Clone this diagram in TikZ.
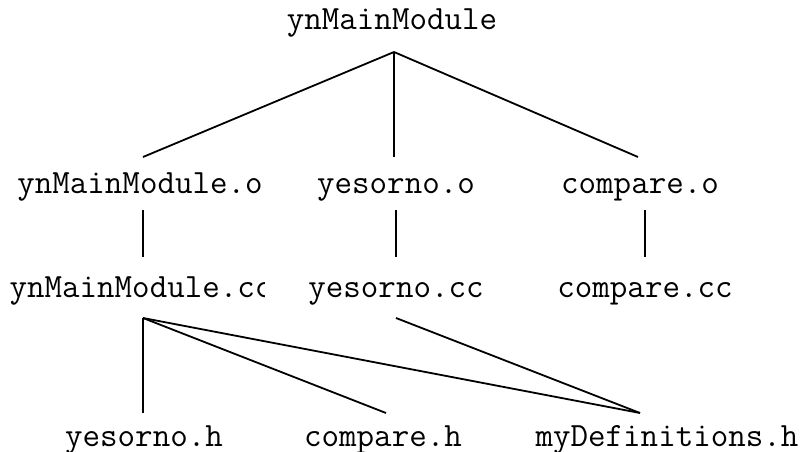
\documentclass[tikz,border=0pt]{standalone}
\usepackage{fontspec}
\begin{document}
\begin{tikzpicture}[x=1pt,y=-1pt,
  lbl/.style={anchor=base,inner sep=0pt,font=\ttfamily\fontsize{34}{34}\selectfont},
  edge/.style={line width=1.8pt,black}]
\useasboundingbox (0,0) rectangle (800,452);
% nodes
\node[lbl] (main) at (392,30) {ynMainModule};
\node[lbl] (mo) at (140,193) {ynMainModule.o};
\node[lbl] (yo) at (396,193) {yesorno.o};
\node[lbl] (co) at (640,193) {compare.o};
\begin{scope}
\clip (0,260) rectangle (264,310);
\node[lbl] (mcc) at (141,297) {ynMainModule.cc};
\end{scope}
\node[lbl] (ycc) at (396,297) {yesorno.cc};
\node[lbl] (ccc) at (645,297) {compare.cc};
\node[lbl] (yh) at (144,446) {yesorno.h};
\node[lbl] (ch) at (383,446) {compare.h};
\node[lbl] (dh) at (667,446) {myDefinitions.h};
% connector ends
\coordinate (main-b) at (394,52);
\coordinate (mo-t) at (143,157);
\coordinate (yo-t) at (394,157);
\coordinate (co-t) at (638,157);
\coordinate (mo-b) at (143,210);
\coordinate (yo-b) at (396,210);
\coordinate (co-b) at (645,210);
\coordinate (mcc-t) at (143,257);
\coordinate (ycc-t) at (396,257);
\coordinate (ccc-t) at (645,257);
\coordinate (mcc-b) at (143,318);
\coordinate (ycc-b) at (396,318);
\coordinate (yh-t) at (143,413);
\coordinate (ch-t) at (386,413);
\coordinate (dh-t) at (640,413);
% connectors
\draw[edge] (main-b) -- (mo-t);
\draw[edge] (main-b) -- (yo-t);
\draw[edge] (main-b) -- (co-t);
\draw[edge] (mo-b) -- (mcc-t);
\draw[edge] (yo-b) -- (ycc-t);
\draw[edge] (co-b) -- (ccc-t);
\draw[edge] (mcc-b) -- (yh-t);
\draw[edge] (mcc-b) -- (ch-t);
\draw[edge] (mcc-b) -- (dh-t);
\draw[edge] (ycc-b) -- (dh-t);
\end{tikzpicture}
\end{document}
